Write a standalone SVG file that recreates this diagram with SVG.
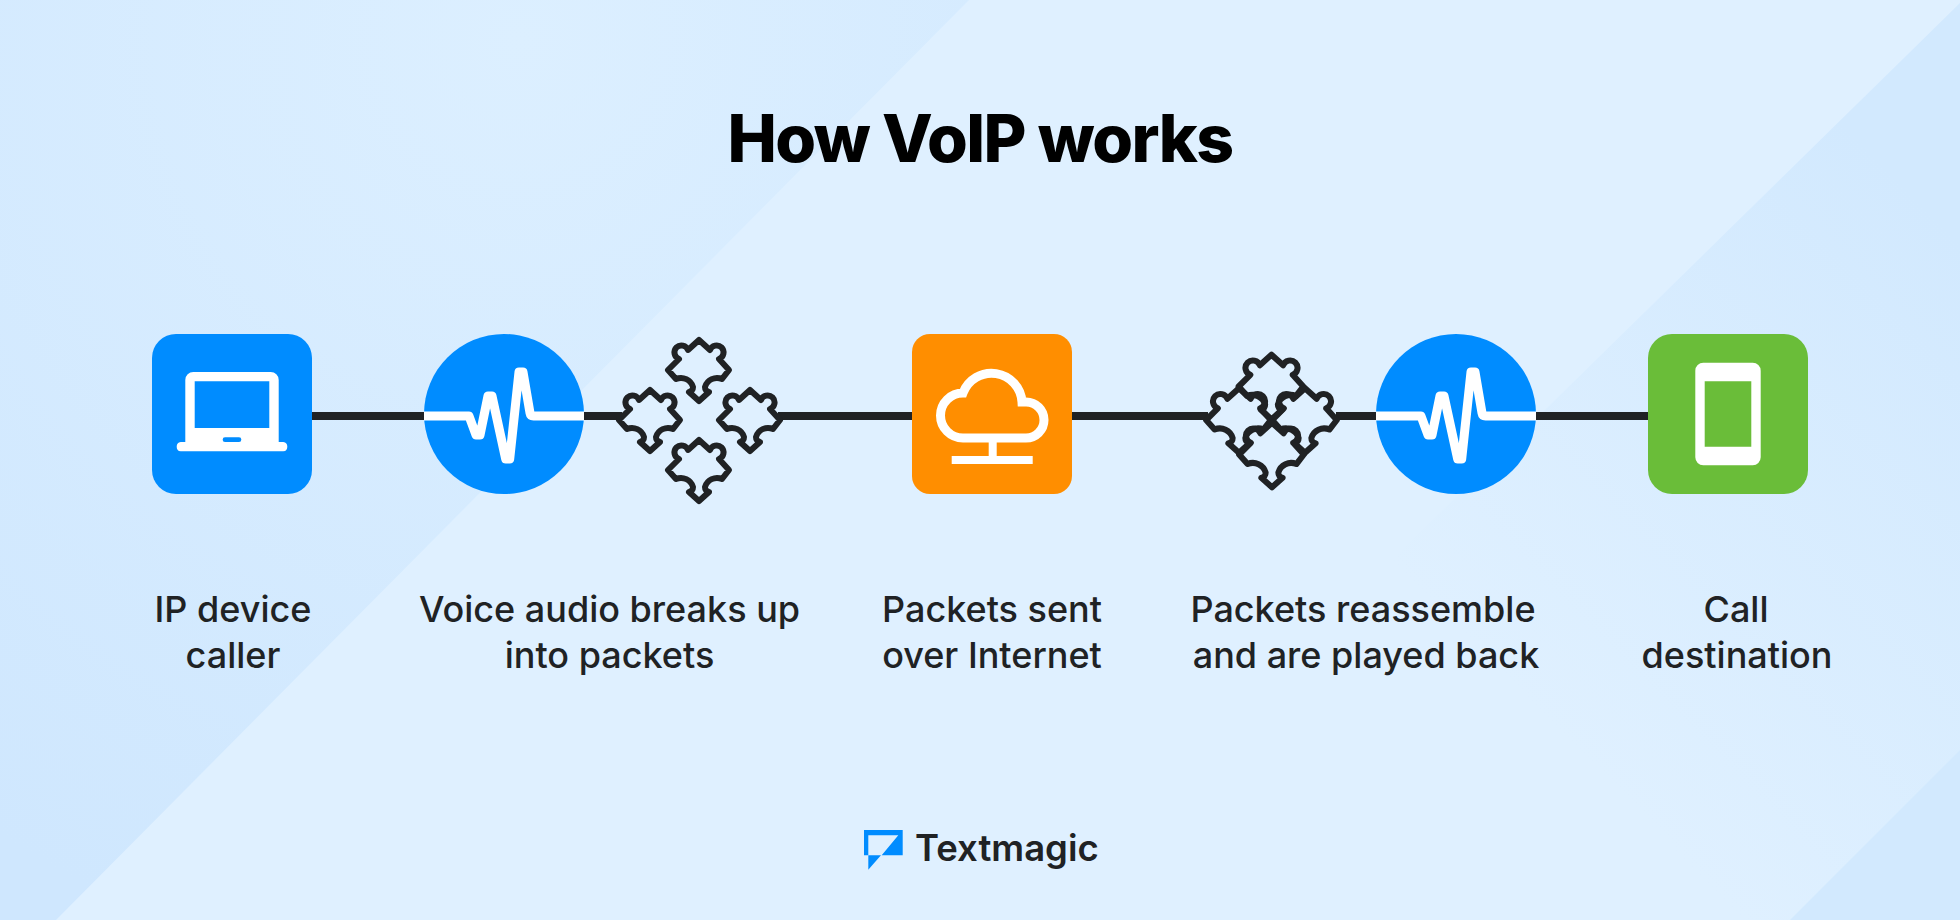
<svg xmlns="http://www.w3.org/2000/svg" width="1960" height="920" viewBox="0 0 1960 920">
  <style>
    text { font-family: "Inter", "Liberation Sans", sans-serif; fill: #202224; text-anchor: middle; }
    .label { font-size: 36px; font-weight: 500; }
    .title { font-size: 66px; font-weight: 800; fill: #000; letter-spacing: -1.6px; }
    .brand { font-size: 36.5px; font-weight: 600; text-anchor: start; }
    .wire { stroke: #202224; stroke-width: 8; fill: none; }
    .ink { fill: #fff; }
    .pulse { fill: none; stroke: #fff; stroke-width: 9; stroke-linejoin: round; stroke-linecap: butt; }
    .outline { fill: none; stroke: #fff; stroke-width: 9; stroke-linejoin: miter; }
    .piece { fill: none; stroke: #202224; stroke-width: 6; stroke-linejoin: round; }
    .piece-tight { stroke-width: 5.7; }
  </style>
  <defs>
    <radialGradient id="leftShade" gradientUnits="userSpaceOnUse" cx="520" cy="40" r="950">
      <stop offset="0" stop-color="#dcefff"/>
      <stop offset="1" stop-color="#cfe7fe"/>
    </radialGradient>
    <linearGradient id="rightShade" gradientUnits="userSpaceOnUse" x1="1900" y1="180" x2="1450" y2="620">
      <stop offset="0" stop-color="#d2e9fe"/>
      <stop offset="1" stop-color="#dff0ff"/>
    </linearGradient>
    <path id="wave" d="M424 416H469L476 435H480L488 396H492L505.700 459H509.700L519 372H523L530 413Q530.500 416 533.500 416H584"/>
    <path id="jigsaw" d="M0 -30L11 -20A7 7 0 1 1 20 -11L30 0L23 9A12.500 12.500 0 0 0 6 17C6 20 7 21 10 22L0 31L-10 22C-7 21 -6 20 -6 17A12.500 12.500 0 0 0 -23 9L-31 0L-20 -11A7 7 0 1 1 -11 -20Z"/>
  </defs>

  <g id="background">
    <rect width="1960" height="920" fill="#dff0ff"/>
    <polygon points="0,0 969,0 56,920 0,920" fill="url(#leftShade)"/>
    <polygon points="1960,3 1960,920 1025,920" fill="url(#rightShade)"/>
    <polygon points="1960,750 1960,920 1790,920" fill="#d2e9fe"/>
  </g>

  <text class="title" x="980" y="162">How VoIP works</text>

  <g id="connectors">
    <path class="wire" d="M312 416H424M584 416H622M778 416H912M1072 416H1208M1336 416H1376M1536 416H1648"/>
  </g>

  <g id="node-caller">
    <rect x="152" y="334" width="160" height="160" rx="24" fill="#008cff"/>
    <path class="ink" fill-rule="evenodd" d="M193.300 372H270.700A8 8 0 0 1 278.700 380V442H283.300A4.700 4.700 0 0 1 283.300 451.300H180.700A4.700 4.700 0 0 1 180.700 442H185.300V380A8 8 0 0 1 193.300 372ZM194.700 381.300V428H269.300V381.300Z"/>
    <rect x="222.700" y="437.300" width="18.600" height="4.700" rx="2.300" fill="#008cff"/>
  </g>

  <g id="node-audio-split">
    <circle cx="504" cy="414" r="80" fill="#008cff"/>
    <use href="#wave" class="pulse"/>
  </g>

  <g id="node-packets-apart">
    <use href="#jigsaw" class="piece" x="699" y="370"/>
    <use href="#jigsaw" class="piece" x="650" y="420"/>
    <use href="#jigsaw" class="piece" x="750" y="420"/>
    <use href="#jigsaw" class="piece" x="699" y="470"/>
  </g>

  <g id="node-internet">
    <rect x="912" y="334" width="160" height="160" rx="18" fill="#ff8e00"/>
    <path class="outline" d="M963 438A22.500 22.500 0 0 1 963 393A30.500 30.500 0 0 1 1022 402H1026A18 18 0 0 1 1026 438Z"/>
    <rect class="ink" x="988.700" y="438" width="8" height="20"/>
    <rect class="ink" x="951.700" y="456" width="81" height="8"/>
  </g>

  <g id="node-packets-joined">
    <use href="#jigsaw" class="piece piece-tight" transform="translate(1271.500 386.500) scale(1.06)"/>
    <use href="#jigsaw" class="piece piece-tight" transform="translate(1239 420) scale(1.06)"/>
    <use href="#jigsaw" class="piece piece-tight" transform="translate(1305 420) scale(1.06)"/>
    <use href="#jigsaw" class="piece piece-tight" transform="translate(1272 454.500) scale(1.06)"/>
  </g>

  <g id="node-audio-join">
    <circle cx="1456" cy="414" r="80" fill="#008cff"/>
    <use href="#wave" class="pulse" x="952"/>
  </g>

  <g id="node-destination">
    <rect x="1648" y="334" width="160" height="160" rx="24" fill="#6abd39"/>
    <path class="ink" fill-rule="evenodd" d="M1703.300 362.700H1752.700A8 8 0 0 1 1760.700 370.700V457.300A8 8 0 0 1 1752.700 465.300H1703.300A8 8 0 0 1 1695.300 457.300V370.700A8 8 0 0 1 1703.300 362.700ZM1704.700 381.300V446.700H1751.300V381.300Z"/>
  </g>

  <g id="labels">
    <text class="label" x="233" y="622">IP device</text>
    <text class="label" x="233" y="668">caller</text>
    <text class="label" x="609.500" y="622">Voice audio breaks up</text>
    <text class="label" x="609.500" y="668">into packets</text>
    <text class="label" x="992" y="622">Packets sent</text>
    <text class="label" x="992" y="668">over Internet</text>
    <text class="label" x="1363" y="622">Packets reassemble</text>
    <text class="label" x="1366" y="668">and are played back</text>
    <text class="label" x="1736" y="622">Call</text>
    <text class="label" x="1737" y="668">destination</text>
  </g>

  <g id="brand">
    <path fill="#008cff" fill-rule="evenodd" d="M864 830H902.700V855.300H864ZM868.300 835.300V855.300H881.700L898.300 835.300Z"/>
    <path fill="#008cff" d="M868.300 855.300H881L868.300 869.700Z"/>
    <text class="brand" x="915" y="861">Textmagic</text>
  </g>
</svg>
